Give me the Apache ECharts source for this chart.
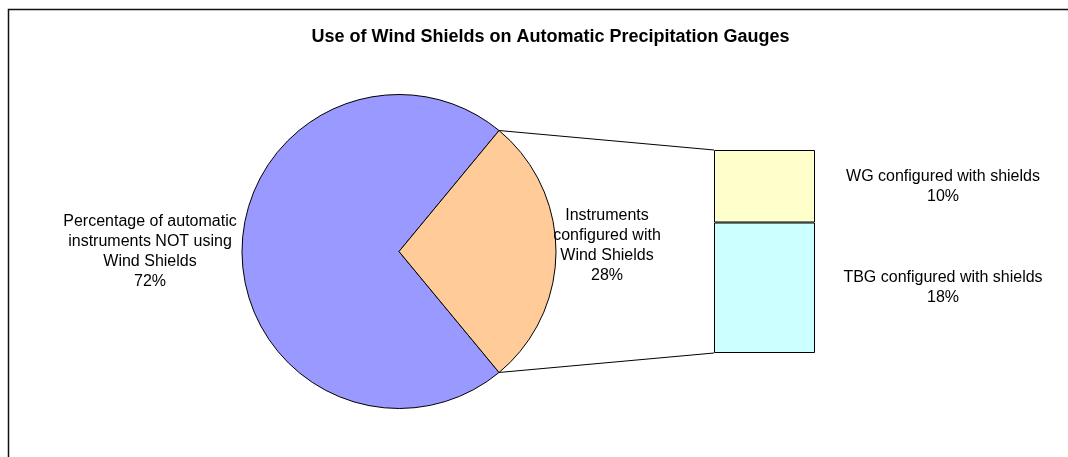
<!DOCTYPE html>
<html>
<head>
<meta charset="utf-8">
<script src="https://cdn.jsdelivr.net/npm/echarts@6/dist/echarts.min.js"></script>
<style>
html,body{margin:0;padding:0;background:#fff;}
#chart{width:1068px;height:457px;}
</style>
</head>
<body>
<div id="chart"></div>
<script>
// ---- data ----
var titleText = 'Use of Wind Shields on Automatic Precipitation Gauges';
var pieNames = ['Percentage of automatic\ninstruments NOT using\nWind Shields', 'Instruments\nconfigured with\nWind Shields'];
var pieValues = [72, 28];
var barCategories = ['Shielded'];
var barSeriesNames = ['TBG configured with shields', 'WG configured with shields'];
var barTBG = [18];
var barWG = [10];

// ---- layout ----
var FONT = '"Liberation Sans", Arial, sans-serif';
var cx = 399, cy = 251.5, R = 157;
var barLeft = 714, barWidth = 101, barTop = 150, barHeight = 203;
var splitHalf = pieValues[1] / (pieValues[0] + pieValues[1]) * 360 / 2;
var startAngle = -splitHalf;

var chart = echarts.init(document.getElementById('chart'), null, {renderer: 'canvas'});

var option = {
  animation: false,
  backgroundColor: '#ffffff',
  title: {
    text: titleText,
    left: 545.5, top: 23, textAlign: 'center',
    textStyle: {fontFamily: FONT, fontSize: 18, fontWeight: 'bold', color: '#000'}
  },
  grid: {left: barLeft, top: barTop, width: barWidth, height: barHeight},
  xAxis: {type: 'category', data: barCategories, show: false},
  yAxis: {type: 'value', min: 0, max: barTBG[0] + barWG[0], show: false},
  series: [
    {
      type: 'pie',
      center: [cx, cy],
      radius: R,
      startAngle: startAngle,
      clockwise: true,
      silent: true,
      z: 3,
      data: pieNames.map(function (n, i) { return {name: n, value: pieValues[i]}; }),
      color: ['#9999FF', '#FFCC99'],
      itemStyle: {borderColor: '#000', borderWidth: 1},
      label: {
        show: true,
        position: 'outside',
        formatter: function (p) { return p.name + '\n' + p.value + '%'; },
        fontFamily: FONT, fontSize: 16, lineHeight: 20, color: '#000', align: 'center'
      },
      labelLine: {show: false},
      labelLayout: function (p) {
        if (p.dataIndex === 0) return {x: 150, y: 251.5, align: 'center', verticalAlign: 'middle'};
        return {x: 607, y: 245.5, align: 'center', verticalAlign: 'middle'};
      },
      emphasis: {disabled: true}
    },
    {
      type: 'bar', name: barSeriesNames[0], stack: 'b', data: barTBG, barWidth: '100%',
      silent: true,
      itemStyle: {color: '#CCFFFF', borderColor: '#000', borderWidth: 1},
      label: {show: true, position: [229, '50%'], align: 'center', verticalAlign: 'middle',
        formatter: function (p) { return p.seriesName + '\n' + p.value + '%'; },
        fontFamily: FONT, fontSize: 16, lineHeight: 20, color: '#000'}
    },
    {
      type: 'bar', name: barSeriesNames[1], stack: 'b', data: barWG, barWidth: '100%',
      silent: true,
      itemStyle: {color: '#FFFFCC', borderColor: '#000', borderWidth: 1},
      label: {show: true, position: [229, '50%'], align: 'center', verticalAlign: 'middle',
        formatter: function (p) { return p.seriesName + '\n' + p.value + '%'; },
        fontFamily: FONT, fontSize: 16, lineHeight: 20, color: '#000'}
    }
  ]
};
chart.setOption(option);

// connector lines from pie split points to bar corners
var a = splitHalf * Math.PI / 180;
var pTop = [cx + R * Math.cos(a), cy - R * Math.sin(a)];
var pBot = [cx + R * Math.cos(a), cy + R * Math.sin(a)];
var total = barTBG[0] + barWG[0];
var bTop = chart.convertToPixel({gridIndex: 0}, [0, total]);
var bBot = chart.convertToPixel({gridIndex: 0}, [0, 0]);
bTop[0] = barLeft; bBot[0] = barLeft;

chart.setOption({
  graphic: [
    {type: 'rect', shape: {x: 8.5, y: 9.5, width: 2000, height: 2000}, style: {fill: null, stroke: '#111', lineWidth: 1.5}, silent: true, z: 0},
    {type: 'line', shape: {x1: pTop[0], y1: pTop[1], x2: bTop[0], y2: bTop[1]}, style: {stroke: '#000', lineWidth: 1}, silent: true, z: 1},
    {type: 'line', shape: {x1: pBot[0], y1: pBot[1], x2: bBot[0], y2: bBot[1]}, style: {stroke: '#000', lineWidth: 1}, silent: true, z: 1}
  ]
});
</script>
</body>
</html>
